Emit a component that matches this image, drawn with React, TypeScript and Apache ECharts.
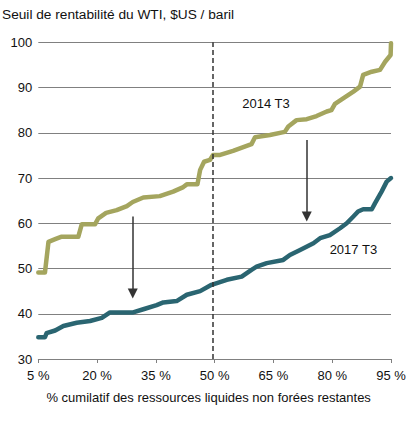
import React, { useEffect, useRef } from "react";
import * as echarts from "echarts";

const titleText = "Seuil de rentabilité du WTI, $US / baril";
const xAxisName = "% cumilatif des ressources liquides non forées restantes";
const xTicks = [5, 20, 35, 50, 65, 80, 95];

const series2014Name = "2014 T3";
const pct2014 = [5.0, 6.7, 7.6, 9.3, 10.8, 15.2, 16.1, 19.5, 20.3, 22.3, 25.0, 27.6, 29.1, 31.8, 36.0, 39.4, 42.0, 42.9, 45.6, 46.3, 47.3, 48.8, 49.6, 51.4, 54.7, 59.4, 60.3, 64.1, 67.9, 68.8, 70.9, 73.5, 76.0, 78.6, 79.8, 80.7, 82.8, 85.4, 87.1, 87.9, 90.1, 92.2, 93.5, 94.9, 95.0];
const val2014 = [49.1, 49.1, 55.9, 56.5, 57.0, 57.0, 59.8, 59.8, 61.1, 62.3, 62.9, 63.8, 64.7, 65.7, 66.0, 67.0, 68.0, 68.6, 68.6, 71.8, 73.6, 74.0, 75.1, 75.1, 76.0, 77.5, 79.0, 79.5, 80.2, 81.4, 82.8, 83.0, 83.7, 84.7, 85.0, 86.4, 87.6, 89.1, 90.2, 92.8, 93.5, 93.9, 95.7, 97.2, 99.8];

const series2017Name = "2017 T3";
const pct2017 = [5.0, 6.7, 7.1, 9.3, 11.4, 14.8, 18.2, 21.2, 23.3, 29.2, 31.8, 35.2, 36.9, 40.3, 42.9, 46.3, 49.2, 53.1, 56.9, 59.4, 60.7, 63.3, 67.5, 69.2, 71.8, 75.2, 76.9, 79.4, 82.0, 83.7, 85.4, 86.6, 87.9, 90.1, 90.9, 92.6, 93.9, 95.0];
const val2017 = [34.8, 34.8, 35.7, 36.3, 37.3, 38.0, 38.4, 39.1, 40.3, 40.3, 41.0, 41.9, 42.5, 42.8, 44.2, 45.0, 46.4, 47.5, 48.2, 49.7, 50.4, 51.2, 51.9, 53.0, 54.1, 55.6, 56.7, 57.4, 58.9, 60.0, 61.5, 62.6, 63.1, 63.1, 64.4, 67.0, 69.2, 70.0];

// median marker and arrows (data coordinates; arrow end = centre of the head)
const medianPct = 49.4;
const arrow1 = { x: 29.1, from: 61.5, to: 44.5 };
const arrow2 = { x: 73.5, from: 78.4, to: 61.5 };
const label2014Pos = [63.1, 86.4];
const label2017Pos = [85.4, 54.3];

const FONT = "'Liberation Sans', Arial, sans-serif";

export default function App() {
  const ref = useRef<HTMLDivElement>(null);
  useEffect(() => {
    if (!ref.current) return;
    const chart = echarts.init(ref.current, null, { renderer: "svg" });
    const gridColor = "#808080";
    const option: any = {
      animation: false,
      textStyle: { fontFamily: FONT },
      title: {
        text: titleText,
        left: 2,
        top: 7,
        padding: 0,
        textStyle: { fontFamily: FONT, fontSize: 13.7, fontWeight: "normal", color: "#111" },
      },
      grid: { left: 38.3, right: 28, top: 42.3, bottom: 64, containLabel: false },
      xAxis: {
        type: "value",
        min: 5,
        max: 95,
        name: xAxisName,
        nameLocation: "middle",
        nameGap: 32,
        nameTextStyle: { fontFamily: FONT, fontSize: 13, color: "#111", padding: [0, 12, 0, 0] },
        axisLine: { show: true, lineStyle: { color: gridColor, width: 1 } },
        axisTick: { show: true, length: 4, customValues: xTicks, lineStyle: { color: gridColor } },
        axisLabel: {
          customValues: xTicks,
          margin: 10,
          fontFamily: FONT,
          fontSize: 13,
          color: "#111",
          formatter: (v: number) => `${v} %`,
        },
        splitLine: { show: false },
      },
      yAxis: {
        type: "value",
        min: 30,
        max: 100,
        interval: 10,
        axisLine: { show: false },
        axisTick: { show: false },
        axisLabel: { margin: 6, fontFamily: FONT, fontSize: 13, color: "#111" },
        splitLine: { show: true, lineStyle: { color: gridColor, width: 1 } },
      },
      series: [
        {
          name: series2014Name,
          type: "line",
          data: pct2014.map((p, i) => [p, val2014[i]]),
          showSymbol: false,
          symbol: "none",
          lineStyle: { color: "#A4A55E", width: 4.5, join: "round", cap: "round" },
          z: 3,
          markPoint: {
            symbol: "rect",
            symbolSize: 1,
            itemStyle: { color: "rgba(0,0,0,0)" },
            label: { show: true, position: "inside", formatter: "{b}", fontFamily: FONT, fontSize: 13, color: "#111" },
            data: [{ name: series2014Name, coord: label2014Pos }],
          },
        },
        {
          name: series2017Name,
          type: "line",
          data: pct2017.map((p, i) => [p, val2017[i]]),
          showSymbol: false,
          symbol: "none",
          lineStyle: { color: "#2A6571", width: 4.5, join: "round", cap: "round" },
          z: 3,
          markPoint: {
            symbol: "rect",
            symbolSize: 1,
            itemStyle: { color: "rgba(0,0,0,0)" },
            label: { show: true, position: "inside", formatter: "{b}", fontFamily: FONT, fontSize: 13, color: "#111" },
            data: [{ name: series2017Name, coord: label2017Pos }],
          },
        },
        {
          type: "line",
          data: [],
          silent: true,
          z: 2,
          markLine: {
            silent: true,
            animation: false,
            label: { show: false },
            symbol: ["none", "none"],
            lineStyle: { color: "#333", width: 1.5, type: [5, 3] },
            data: [[{ coord: [medianPct, 30] }, { coord: [medianPct, 100] }]],
          },
        },
        {
          type: "line",
          data: [],
          silent: true,
          z: 4,
          markLine: {
            silent: true,
            animation: false,
            label: { show: false },
            symbol: ["none", "triangle"],
            symbolSize: 10,
            lineStyle: { color: "#333", width: 1.5, type: "solid" },
            itemStyle: { color: "#000" },
            data: [
              [{ coord: [arrow1.x, arrow1.from] }, { coord: [arrow1.x, arrow1.to] }],
              [{ coord: [arrow2.x, arrow2.from] }, { coord: [arrow2.x, arrow2.to] }],
            ],
          },
        },
      ],
    };
    chart.setOption(option);
    return () => chart.dispose();
  }, []);
  return (
    <div
      ref={ref}
      style={{ position: "fixed", left: 0, top: 0, width: 419, height: 423, background: "#fff" }}
    />
  );
}
